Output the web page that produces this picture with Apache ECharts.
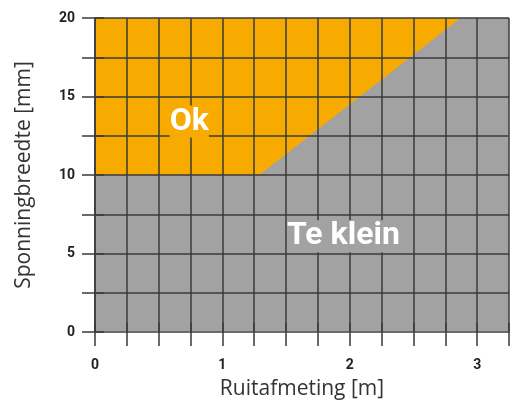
<!DOCTYPE html>
<html>
<head>
<meta charset="utf-8">
<script src="https://cdn.jsdelivr.net/npm/echarts@6/dist/echarts.min.js"></script>
<style>
    html, body { margin: 0; padding: 0; background: #fff; }
    #chart { width: 518px; height: 405px; }
</style>
</head>
<body>
<div id="chart"></div>
<script>
    // boundary of the "Te klein" zone (everything below is too small)
    const limitX = [0, 1.29, 2.87, 3.25];
    const limitY = [10, 10, 20, 20];
    // "Ok" zone, filled down and then covered by the grey zone
    const okX = [0, 2.87];
    const okY = [20, 20];
    // zone labels
    const zoneNames = ['Ok', 'Te klein'];
    const zoneX = [0.74, 1.95];
    const zoneY = [13.4, 6.1];

    const orange = '#f7ab00';
    const grey = '#a2a2a2';
    const gridColor = '#3a3a3a';
    const labelFont = 'Roboto';

    const chart = echarts.init(document.getElementById('chart'));

    const splitLine = { show: true, lineStyle: { color: gridColor, width: 1.5 } };

    chart.setOption({
        animation: false,
        grid: { left: 95, right: 9, top: 18, bottom: 73, outerBoundsMode: 'none' },
        xAxis: [{
            type: 'value',
            min: 0, max: 3.25, interval: 0.25,
            z: 5,
            name: 'Ruitafmeting [m]',
            nameLocation: 'middle',
            nameGap: 47,
            nameTextStyle: { fontFamily: 'Open Sans', fontSize: 21, color: '#333' },
            axisLine: { show: true, lineStyle: { color: '#6a6a6a', width: 2 } },
            axisTick: { show: true, inside: false, length: 14, lineStyle: { color: gridColor, width: 1.5 } },
            axisLabel: {
                margin: 26,
                fontFamily: labelFont, fontWeight: 'bold', fontSize: 14, color: '#222',
                formatter: v => Number.isInteger(v) ? String(v) : ''
            },
            splitLine: splitLine
        }, {
            // top overhang of the vertical lines
            type: 'value', position: 'top',
            min: 0, max: 3.25, interval: 0.25,
            z: 5,
            axisLine: { show: false },
            axisTick: { show: true, inside: false, length: 9, lineStyle: { color: gridColor, width: 1.5 } },
            axisLabel: { show: false },
            splitLine: { show: false }
        }],
        yAxis: [{
            type: 'value',
            min: 0, max: 20, interval: 2.5,
            z: 5,
            name: 'Sponningbreedte [mm]',
            nameLocation: 'middle',
            nameGap: 60,
            nameTextStyle: { fontFamily: 'Open Sans', fontSize: 21, color: '#333' },
            axisLine: { show: true, lineStyle: { color: gridColor, width: 1.5 } },
            axisTick: { show: true, inside: false, length: 13, lineStyle: { color: gridColor, width: 1.5 } },
            axisLabel: {
                margin: 20,
                fontFamily: labelFont, fontWeight: 'bold', fontSize: 14, color: '#222',
                formatter: v => v % 5 === 0 ? String(v) : ''
            },
            splitLine: splitLine
        }, {
            // right overhang of the horizontal lines
            type: 'value', position: 'right',
            min: 0, max: 20, interval: 2.5,
            z: 5,
            axisLine: { show: false },
            axisTick: { show: true, inside: false, length: 9, lineStyle: { color: gridColor, width: 1.5 } },
            axisLabel: { show: false },
            splitLine: { show: false }
        }],
        series: [{
            name: 'Ok',
            type: 'line',
            z: 1,
            symbol: 'none',
            lineStyle: { width: 0 },
            areaStyle: { color: orange, opacity: 1 },
            data: okX.map((x, i) => [x, okY[i]])
        }, {
            name: 'Te klein',
            type: 'line',
            z: 2,
            symbol: 'none',
            lineStyle: { width: 0 },
            areaStyle: { color: grey, opacity: 1 },
            data: limitX.map((x, i) => [x, limitY[i]])
        }, {
            type: 'scatter',
            zlevel: 1,
            symbolSize: 0,
            itemStyle: { opacity: 1 },
            emphasis: { disabled: true },
            data: zoneNames.map((n, i) => ({
                name: n,
                value: [zoneX[i], zoneY[i]],
                label: { backgroundColor: i === 0 ? orange : grey }
            })),
            label: {
                show: true,
                position: 'inside',
                formatter: p => p.name,
                fontFamily: labelFont,
                fontWeight: 'bold',
                fontSize: 32,
                color: '#fff',
                padding: [0, 0, 0, 0]
            }
        }]
    });
</script>
</body>
</html>
